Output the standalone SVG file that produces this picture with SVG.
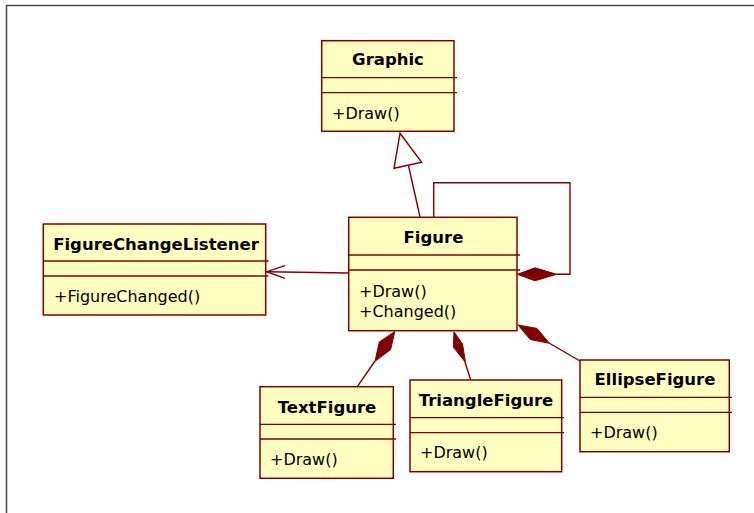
<svg xmlns="http://www.w3.org/2000/svg" width="754" height="513" viewBox="0 0 754 513">
<style>
.box{fill:#FFFFC0;stroke:#800000;stroke-width:1.5}
.sep{stroke:#800000;stroke-width:1.3;fill:none}
.name{font-family:"DejaVu Sans",Verdana,sans-serif;font-weight:bold;font-size:16.5px;fill:#000;text-anchor:middle}
.op{font-family:"DejaVu Sans",Verdana,sans-serif;font-size:16px;fill:#000}
.ln{stroke:#800000;stroke-width:1.4;fill:none}
.dia{fill:#800000;stroke:#800000;stroke-width:1}
.tri{fill:#fff;stroke:#800000;stroke-width:1.4}
</style>
<rect x="0" y="0" width="754" height="513" fill="#fff"/>
<polyline points="6.5,513 6.5,5.5 754,5.5" fill="none" stroke="#4a4a4a" stroke-width="1.5"/>

<g id="connectors">
  <!-- generalization Figure -> Graphic -->
  <line class="ln" x1="420" y1="217" x2="408.5" y2="165.5"/>
  <polygon class="tri" points="400,133.3 394,168.3 421.7,162.3"/>
  <!-- self composition loop -->
  <polyline class="ln" points="433.7,217 433.7,182.7 570,182.7 570,274.3 556.7,274.3"/>
  <polygon class="dia" points="517.3,274.3 535,267.8 556.7,274.3 535,280.8"/>
  <!-- association Figure -> FigureChangeListener -->
  <line class="ln" x1="348.7" y1="273" x2="266.7" y2="271.7"/>
  <polyline class="ln" points="285,265.7 266.7,271.7 285,278.3"/>
  <!-- TextFigure composition -->
  <line class="ln" x1="375" y1="361" x2="357.3" y2="386.7"/>
  <polygon class="dia" points="394.8,331.5 379.3,342 375,361.3 390.6,349.7"/>
  <!-- TriangleFigure composition -->
  <line class="ln" x1="465" y1="362" x2="470.7" y2="380"/>
  <polygon class="dia" points="454,331.8 453.3,347 465.5,362.5 462.5,344"/>
  <!-- EllipseFigure composition -->
  <line class="ln" x1="549" y1="343" x2="580" y2="361"/>
  <polygon class="dia" points="518,325 530.3,339.6 549.5,343.3 537,328.4"/>
</g>

<g id="Graphic">
  <rect class="box" x="321.7" y="40.7" width="132.3" height="90.6"/>
  <line class="sep" x1="321.7" y1="77.7" x2="457" y2="77.7"/>
  <line class="sep" x1="321.7" y1="92.7" x2="457" y2="92.7"/>
  <text class="name" x="388" y="65">Graphic</text>
  <text class="op" x="332" y="119">+Draw()</text>
</g>

<g id="Figure">
  <rect class="box" x="348.7" y="217.3" width="168.3" height="113.4"/>
  <line class="sep" x1="348.7" y1="255" x2="520" y2="255"/>
  <line class="sep" x1="348.7" y1="270" x2="520" y2="270"/>
  <text class="name" x="433.5" y="243">Figure</text>
  <text class="op" x="359" y="297">+Draw()</text>
  <text class="op" x="359" y="317">+Changed()</text>
</g>

<g id="FigureChangeListener">
  <rect class="box" x="43.3" y="224" width="222.4" height="91"/>
  <line class="sep" x1="43.3" y1="261" x2="268.5" y2="261"/>
  <line class="sep" x1="43.3" y1="276" x2="268.5" y2="276"/>
  <text class="name" x="156" y="250">FigureChangeListener</text>
  <text class="op" x="54" y="302">+FigureChanged()</text>
</g>

<g id="TextFigure">
  <rect class="box" x="260" y="386.7" width="133.3" height="91.6"/>
  <line class="sep" x1="260" y1="424.3" x2="396" y2="424.3"/>
  <line class="sep" x1="260" y1="439" x2="396" y2="439"/>
  <text class="name" x="327" y="413">TextFigure</text>
  <text class="op" x="270" y="465">+Draw()</text>
</g>

<g id="TriangleFigure">
  <rect class="box" x="410" y="380" width="151.7" height="91.7"/>
  <line class="sep" x1="410" y1="417.7" x2="564" y2="417.7"/>
  <line class="sep" x1="410" y1="432.7" x2="564" y2="432.7"/>
  <text class="name" x="486" y="406">TriangleFigure</text>
  <text class="op" x="420" y="458">+Draw()</text>
</g>

<g id="EllipseFigure">
  <rect class="box" x="580" y="360" width="149.3" height="91.7"/>
  <line class="sep" x1="580" y1="397.3" x2="732" y2="397.3"/>
  <line class="sep" x1="580" y1="412.3" x2="732" y2="412.3"/>
  <text class="name" x="655" y="385">EllipseFigure</text>
  <text class="op" x="590" y="438">+Draw()</text>
</g>
</svg>
